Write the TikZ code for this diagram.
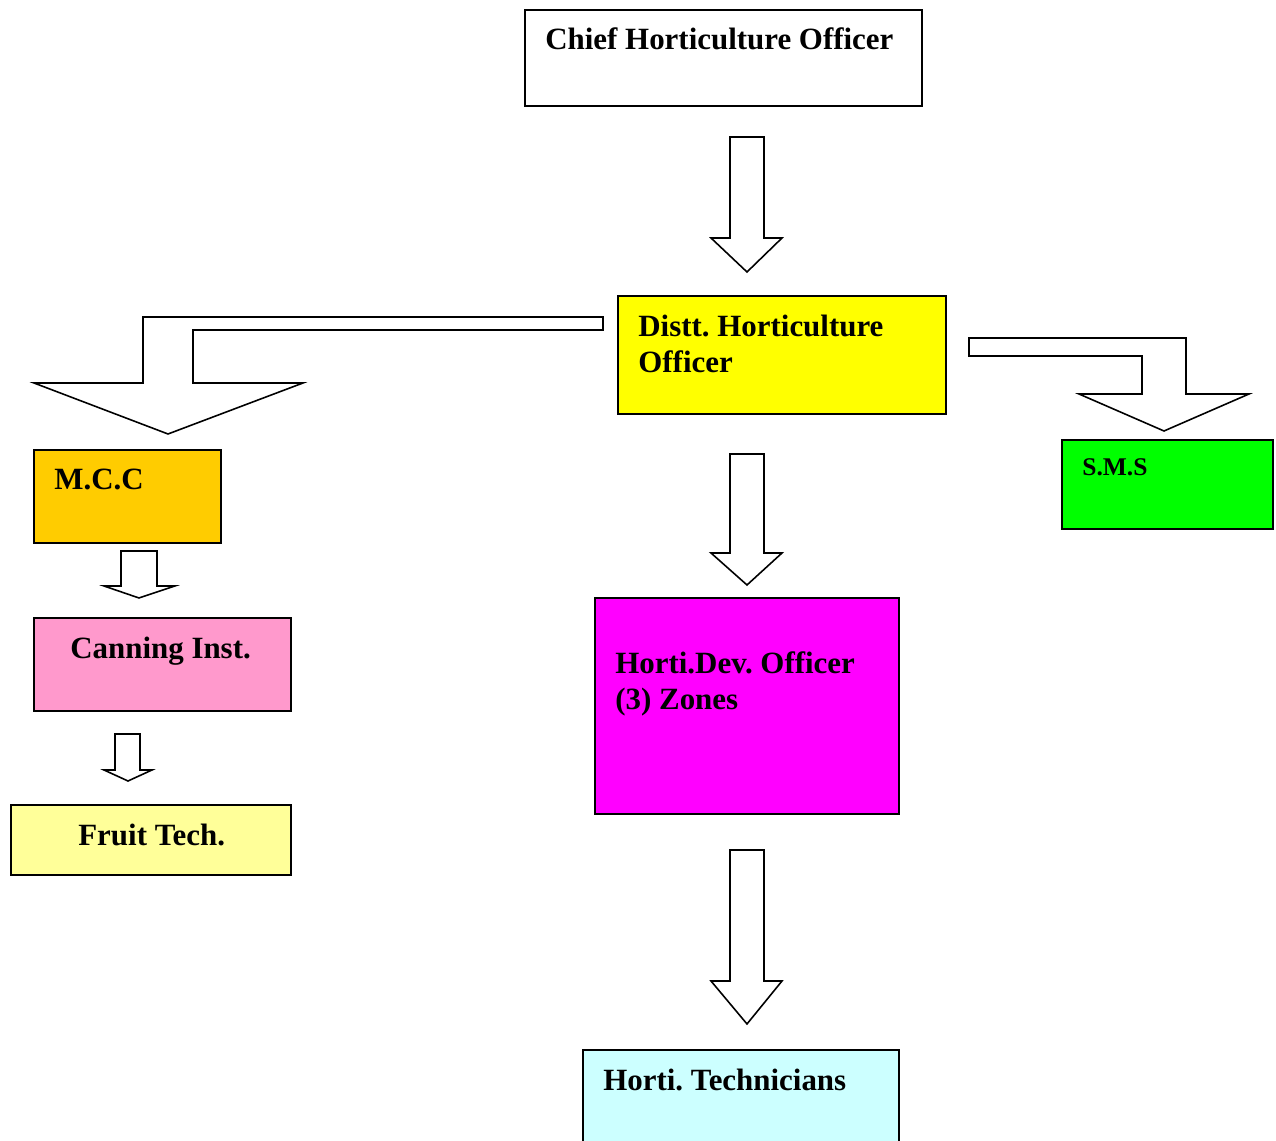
\documentclass[tikz,border=0pt]{standalone}
\usepackage{fontspec}
\setmainfont{Liberation Serif}
\frenchspacing
\definecolor{disttyellow}{HTML}{FFFF00}
\definecolor{smsgreen}{HTML}{00FF00}
\definecolor{devmagenta}{HTML}{FF00FF}
\definecolor{mccorange}{HTML}{FFCC00}
\definecolor{canpink}{HTML}{FF99CC}
\definecolor{fruityellow}{HTML}{FFFF99}
\definecolor{techcyan}{HTML}{CCFFFF}
\begin{document}
\begin{tikzpicture}[x=0.02cm,y=-0.02cm,
    box/.style={draw,line width=0.9pt,rectangle,anchor=north west,inner sep=0pt,outer sep=0pt},
    lbl/.style={anchor=base west,inner sep=0pt,align=left,font=\fontsize{17.6}{20.5}\selectfont\bfseries},
    blockarrow/.style={draw,line width=0.9pt,fill=white,line join=miter}]
    \clip (0,0) rectangle (1276,1141);
    %top
    \node[box,minimum width=7.94cm,minimum height=1.92cm] (chief) at (525,10) {};
    \node[lbl] (chieftext) at (545,50) {Chief Horticulture Officer};
    \draw[blockarrow] (730,137) -- (764,137) -- (764,238) -- (782,238) -- (747,272) -- (711,238) -- (730,238) -- cycle;
    %district
    \node[box,fill=disttyellow,minimum width=6.56cm,minimum height=2.36cm] (distt) at (618,296) {};
    \node[lbl] (distttext) at (638,373) {Distt. Horticulture\\Officer};
    %left branch
    \draw[blockarrow] (603,317) -- (603,330) -- (193,330) -- (193,383) -- (303,383) -- (168,434) -- (34,383) -- (143,383) -- (143,317) -- cycle;
    \node[box,fill=mccorange,minimum width=3.74cm,minimum height=1.86cm] (mcc) at (34,450) {};
    \node[lbl] (mcctext) at (54,490) {M.C.C};
    \draw[blockarrow] (121,551) -- (157,551) -- (157,586) -- (175,586) -- (139,598) -- (104,586) -- (121,586) -- cycle;
    \node[box,fill=canpink,minimum width=5.14cm,minimum height=1.86cm] (canning) at (34,618) {};
    \node[lbl] (canningtext) at (70,659) {Canning Inst.};
    \draw[blockarrow] (115,734) -- (140,734) -- (140,770) -- (152,770) -- (128,781) -- (104,770) -- (115,770) -- cycle;
    \node[box,fill=fruityellow,minimum width=5.6cm,minimum height=1.4cm] (fruit) at (11,805) {};
    \node[lbl] (fruittext) at (78,846) {Fruit Tech.};
    %right branch
    \draw[blockarrow] (969,338) -- (1186,338) -- (1186,394) -- (1249,394) -- (1164,431) -- (1079,394) -- (1142,394) -- (1142,356) -- (969,356) -- cycle;
    \node[box,fill=smsgreen,minimum width=4.22cm,minimum height=1.78cm] (sms) at (1062,440) {};
    \node[lbl,font=\fontsize{14.5}{17}\selectfont\bfseries] (smstext) at (1082,476) {S.M.S};
    %middle
    \draw[blockarrow] (730,454) -- (764,454) -- (764,553) -- (782,553) -- (747,585) -- (711,553) -- (730,553) -- cycle;
    \node[box,fill=devmagenta,minimum width=6.08cm,minimum height=4.32cm] (hortidev) at (595,598) {};
    \node[lbl] (hortidevtext) at (615,710) {Horti.Dev. Officer\\(3) Zones};
    \draw[blockarrow] (730,850) -- (764,850) -- (764,981) -- (782,981) -- (747,1024) -- (711,981) -- (730,981) -- cycle;
    \node[box,fill=techcyan,minimum width=6.32cm,minimum height=2.2cm] (hortitech) at (583,1050) {};
    \node[lbl] (hortitechtext) at (603,1091) {Horti. Technicians};
\end{tikzpicture}
\end{document}
